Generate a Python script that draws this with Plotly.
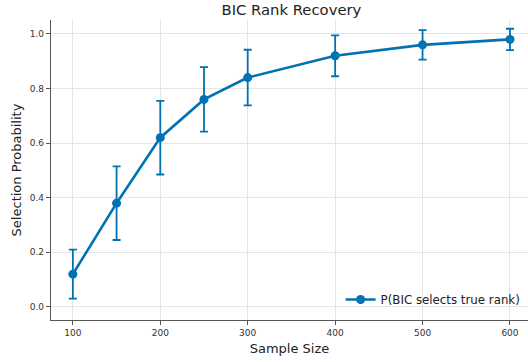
import plotly.graph_objects as go

# Simulation summary: probability that BIC picks the true rank
sample_sizes = [100, 150, 200, 250, 300, 400, 500, 600]
prob_correct = [0.12, 0.38, 0.62, 0.76, 0.84, 0.92, 0.96, 0.98]
ci_halfwidth = [0.09, 0.135, 0.135, 0.118, 0.102, 0.075, 0.054, 0.039]
x_ticks = [100, 200, 300, 400, 500, 600]
y_ticks = [0.0, 0.2, 0.4, 0.6, 0.8, 1.0]

blue = "#0072B2"
font_family = "DejaVu Sans, sans-serif"

fig = go.Figure()
fig.add_trace(go.Scatter(
    x=sample_sizes,
    y=prob_correct,
    mode="lines+markers",
    name="P(BIC selects true rank)",
    line=dict(color=blue, width=2.6),
    marker=dict(color=blue, size=9),
    error_y=dict(type="data", array=ci_halfwidth, visible=True,
                 color=blue, thickness=1.8, width=4),
))

axis_common = dict(
    showgrid=True, gridcolor="#e5e5e5", gridwidth=1,
    zeroline=False, showline=True, linecolor="#555555", linewidth=1.2,
    ticks="outside", ticklen=4, tickwidth=1, tickcolor="#555555",
    tickfont=dict(family=font_family, size=9, color="#333333"),
    title_font=dict(family=font_family, size=13, color="#222222"),
)

fig.update_layout(
    width=528, height=362,
    margin=dict(l=51, r=0, t=20, b=42),
    paper_bgcolor="white", plot_bgcolor="white",
    font=dict(family=font_family, color="#222222"),
    title=dict(text="BIC Rank Recovery", x=0.552, xanchor="center",
               y=0.974, yanchor="middle",
               font=dict(family=font_family, size=14.8, color="#222222")),
    xaxis=dict(title=dict(text="Sample Size", standoff=6),
               range=[75, 620.6], tickvals=x_ticks, **axis_common),
    yaxis=dict(title=dict(text="Selection Probability", standoff=5),
               range=[-0.048, 1.051], tickvals=y_ticks,
               tickformat=".1f", **axis_common),
    legend=dict(x=0.995, y=0.02, xanchor="right", yanchor="bottom",
                bgcolor="rgba(255,255,255,0)",
                font=dict(family=font_family, size=11.8, color="#222222")),
    showlegend=True,
)

fig.write_html("out.html")
